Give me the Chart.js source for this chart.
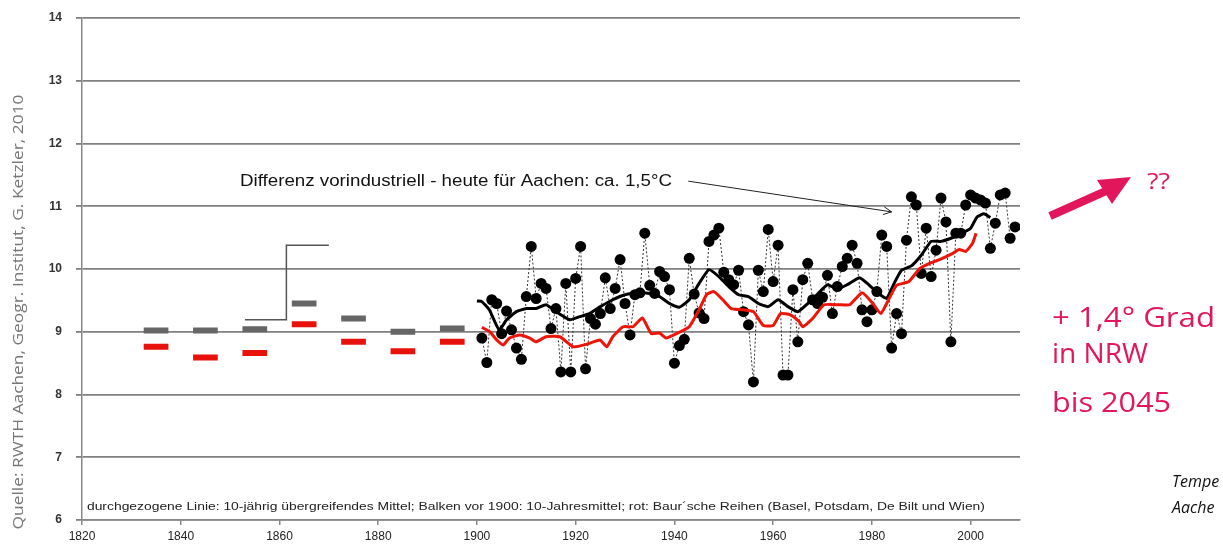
<!DOCTYPE html>
<html>
<head>
<meta charset="utf-8">
<script src="https://cdn.jsdelivr.net/npm/chart.js@4"></script>
<style>
  html, body { margin: 0; padding: 0; background: #fff; }
  #wrap { position: relative; width: 1223px; height: 554px; }
</style>
</head>
<body>
<div id="wrap"><canvas id="chart" width="1223" height="554"></canvas></div>
<script>
// Jahreswerte Aachen (Punkte)
const annualYears = [
  1901, 1902, 1903, 1904, 1905, 1906, 1907, 1908, 1909, 1910,
  1911, 1912, 1913, 1914, 1915, 1916, 1917, 1918, 1919, 1920,
  1921, 1922, 1923, 1924, 1925, 1926, 1927, 1928, 1929, 1930,
  1931, 1932, 1933, 1934, 1935, 1936, 1937, 1938, 1939, 1940,
  1941, 1942, 1943, 1944, 1945, 1946, 1947, 1948, 1949, 1950,
  1951, 1952, 1953, 1954, 1955, 1956, 1957, 1958, 1959, 1960,
  1961, 1962, 1963, 1964, 1965, 1966, 1967, 1968, 1969, 1970,
  1971, 1972, 1973, 1974, 1975, 1976, 1977, 1978, 1979, 1980,
  1981, 1982, 1983, 1984, 1985, 1986, 1987, 1988, 1989, 1990,
  1991, 1992, 1993, 1994, 1995, 1996, 1997, 1998, 1999, 2000,
  2001, 2002, 2003, 2004, 2005, 2006, 2007, 2008, 2009
];
const annualTemps = [
  8.90, 8.51, 9.51, 9.45, 8.97, 9.33, 9.03, 8.74, 8.56, 9.56,
  10.36, 9.53, 9.77, 9.69, 9.05, 9.37, 8.36, 9.77, 8.36, 9.85,
  10.36, 8.41, 9.21, 9.12, 9.29, 9.86, 9.37, 9.69, 10.15, 9.45,
  8.95, 9.59, 9.62, 10.57, 9.74, 9.61, 9.96, 9.88, 9.67, 8.50,
  8.78, 8.88, 10.17, 9.60, 9.30, 9.21, 10.44, 10.54, 10.65, 9.95,
  9.83, 9.75, 9.98, 9.32, 9.11, 8.20, 9.98, 9.64, 10.63, 9.80,
  10.38, 8.31, 8.31, 9.67, 8.84, 9.83, 10.09, 9.51, 9.45, 9.55,
  9.90, 9.29, 9.72, 10.04, 10.17, 10.38, 10.09, 9.35, 9.16, 9.35,
  9.64, 10.54, 10.36, 8.74, 9.29, 8.97, 10.46, 11.15, 11.02, 9.93,
  10.65, 9.88, 10.30, 11.13, 10.75, 8.84, 10.57, 10.57, 11.02, 11.18,
  11.13, 11.10, 11.05, 10.33, 10.73, 11.18, 11.21, 10.49, 10.67
];

// 10-jaehrig uebergreifendes Mittel (schwarz)
const meanYears = [
  1900, 1901, 1902.5, 1904.5, 1906, 1908, 1910, 1912, 1914, 1916,
  1918.8, 1920.8, 1922.8, 1925, 1927.5, 1930, 1933, 1935, 1937, 1939,
  1941, 1943, 1945, 1947, 1949, 1951, 1953, 1955, 1957, 1959,
  1961, 1963, 1965, 1967, 1969, 1971, 1973, 1975, 1977.5, 1979.5,
  1981.5, 1983, 1984.5, 1986, 1988, 1990, 1992, 1994, 1996, 1998,
  2000, 2001.3, 2002.7, 2004
];
const meanTemps = [
  9.49, 9.48, 9.35, 9.03, 9.19, 9.32, 9.37, 9.37, 9.43, 9.32,
  9.19, 9.24, 9.29, 9.40, 9.51, 9.59, 9.62, 9.61, 9.56, 9.45,
  9.39, 9.51, 9.77, 9.99, 9.88, 9.72, 9.59, 9.56, 9.45, 9.40,
  9.51, 9.40, 9.32, 9.45, 9.60, 9.75, 9.68, 9.75, 9.86, 9.74,
  9.60, 9.53, 9.77, 9.98, 10.05, 10.22, 10.44, 10.44, 10.49, 10.56,
  10.65, 10.83, 10.88, 10.82
];

// Baur'sche Reihen, Mittel (rot)
const baurYears = [
  1901, 1902.6, 1904, 1905.3, 1906.6, 1908.7, 1910.7, 1912, 1914, 1916.8,
  1919.5, 1922.2, 1924.9, 1926.3, 1927.5, 1929.6, 1931.6, 1933.5, 1935.3, 1937,
  1938.3, 1940.7, 1943, 1945, 1946.5, 1948, 1949.8, 1951.5, 1954, 1956,
  1958, 1960, 1961.5, 1963.5, 1965.3, 1966, 1968, 1970.3, 1973.4, 1975.5,
  1978, 1980, 1981.8, 1983.7, 1985, 1987.5, 1989.7, 1991.7, 1993.7, 1996.4,
  1997.7, 1999, 2000.4, 2001.1
];
const baurTemps = [
  9.07, 9.00, 8.87, 8.79, 8.90, 8.95, 8.90, 8.84, 8.92, 8.92,
  8.76, 8.80, 8.87, 8.76, 8.92, 9.08, 9.08, 9.22, 8.97, 8.98,
  8.90, 8.98, 9.08, 9.35, 9.59, 9.64, 9.51, 9.37, 9.35, 9.32,
  9.10, 9.10, 9.29, 9.27, 9.16, 9.08, 9.21, 9.43, 9.43, 9.43,
  9.62, 9.47, 9.29, 9.56, 9.74, 9.80, 10.01, 10.09, 10.15, 10.25,
  10.31, 10.28, 10.41, 10.57
];

// Balken vor 1900: 10-Jahresmittel
const decadeCenters = [1835, 1845, 1855, 1865, 1875, 1885, 1895];
const decadeMeans = [9.02, 9.02, 9.04, 9.45, 9.21, 9.00, 9.05];
const decadeBaur = [8.76, 8.59, 8.66, 9.12, 8.84, 8.69, 8.84];

// Klammerlinie bei 1860
const bracketYears = [1853, 1861.4, 1861.4, 1870];
const bracketTemps = [9.19, 9.19, 10.38, 10.38];

const xTickLabels = [1820, 1840, 1860, 1880, 1900, 1920, 1940, 1960, 1980, 2000];
const yTickLabels = [6, 7, 8, 9, 10, 11, 12, 13, 14];

const PINK = '#e2165b';

function pairs(xs, ys) {
  return xs.map((x, i) => ({ x: x, y: ys[i] }));
}

// each bar is a short flat segment, 5 years wide, broken by a gap point
function barSegments(centers, values) {
  const pts = [];
  centers.forEach((c, i) => {
    pts.push({ x: c - 2.5, y: values[i] });
    pts.push({ x: c + 2.5, y: values[i] });
    pts.push({ x: c, y: null });
  });
  return pts;
}

// draw text squeezed/stretched to a given width
function fitText(ctx, text, px, py, width, font, color, baseline) {
  ctx.save();
  ctx.font = font;
  ctx.fillStyle = color;
  ctx.textAlign = 'left';
  ctx.textBaseline = baseline || 'middle';
  const w = ctx.measureText(text).width;
  ctx.translate(px, py);
  ctx.scale(width / w, 1);
  ctx.fillText(text, 0, 0);
  ctx.restore();
}

const notes = {
  id: 'notes',
  afterDraw(chart) {
    const { ctx } = chart;
    const x = chart.scales.x;
    const y = chart.scales.y;

    // annotation in the plot
    fitText(ctx, 'Differenz vorindustriell - heute für Aachen: ca. 1,5°C',
      x.getPixelForValue(1852), y.getPixelForValue(11.4), 432,
      '16px "Liberation Sans", Arial, sans-serif', '#111');

    const x0 = x.getPixelForValue(1942.8), y0 = y.getPixelForValue(11.4);
    const x1 = x.getPixelForValue(1984), y1 = y.getPixelForValue(10.91);
    const ang = Math.atan2(y1 - y0, x1 - x0);
    ctx.save();
    ctx.strokeStyle = '#222';
    ctx.lineWidth = 1;
    ctx.beginPath();
    ctx.moveTo(x0, y0);
    ctx.lineTo(x1, y1);
    ctx.moveTo(x1 - 9 * Math.cos(ang - 0.45), y1 - 9 * Math.sin(ang - 0.45));
    ctx.lineTo(x1, y1);
    ctx.lineTo(x1 - 9 * Math.cos(ang + 0.45), y1 - 9 * Math.sin(ang + 0.45));
    ctx.stroke();
    ctx.restore();

    // footnote
    fitText(ctx, 'durchgezogene Linie: 10-jährig übergreifendes Mittel; Balken vor 1900: 10-Jahresmittel; rot: Baur´sche Reihen (Basel, Potsdam, De Bilt und Wien)',
      x.getPixelForValue(1821), y.getPixelForValue(6.21), 898,
      '11px "Liberation Sans", Arial, sans-serif', '#222');

    // source, rotated
    ctx.save();
    ctx.translate(19, 312);
    ctx.rotate(-Math.PI / 2);
    ctx.font = '14px "Open Sans", sans-serif';
    const qt = 'Quelle: RWTH Aachen, Geogr. Institut, G. Ketzler, 2010';
    const qw = ctx.measureText(qt).width;
    ctx.scale(435 / qw, 1);
    ctx.fillStyle = '#777';
    ctx.textAlign = 'center';
    ctx.textBaseline = 'middle';
    ctx.fillText(qt, 0, 0);
    ctx.restore();

    // pink arrow
    ctx.save();
    ctx.strokeStyle = PINK;
    ctx.fillStyle = PINK;
    ctx.lineWidth = 8;
    ctx.beginPath();
    ctx.moveTo(1050, 216);
    ctx.lineTo(1106, 191);
    ctx.stroke();
    ctx.beginPath();
    ctx.moveTo(1131, 177);
    ctx.lineTo(1097, 180);
    ctx.lineTo(1112, 204);
    ctx.closePath();
    ctx.fill();
    ctx.restore();

    const pinkFont = '27px "Open Sans", sans-serif';
    fitText(ctx, '??', 1147, 189, 23, '22px "Open Sans", sans-serif', PINK, 'alphabetic');
    fitText(ctx, '+ 1,4° Grad', 1052, 327, 163, pinkFont, PINK, 'alphabetic');
    fitText(ctx, 'in NRW', 1052, 363, 96, pinkFont, PINK, 'alphabetic');
    fitText(ctx, 'bis 2045', 1052, 412, 119, pinkFont, PINK, 'alphabetic');

    ctx.save();
    ctx.fillStyle = '#111';
    ctx.font = 'italic 16px "Open Sans", sans-serif';
    ctx.fillText('Tempe', 1172, 487);
    ctx.fillText('Aache', 1172, 513);
    ctx.restore();
  }
};

new Chart(document.getElementById('chart'), {
  type: 'scatter',
  data: {
    datasets: [
      {
        label: 'Mittel',
        data: pairs(meanYears, meanTemps),
        showLine: true,
        borderColor: '#000',
        borderWidth: 3,
        pointRadius: 0,
        tension: 0.15,
        order: 2,
      },
      {
        label: 'Baur',
        data: pairs(baurYears, baurTemps),
        showLine: true,
        borderColor: '#ec1508',
        borderWidth: 3,
        pointRadius: 0,
        tension: 0.15,
        order: 1,
      },
      {
        label: 'Jahreswerte',
        data: pairs(annualYears, annualTemps),
        showLine: true,
        borderColor: '#333',
        borderWidth: 1,
        borderDash: [2, 2],
        pointRadius: 5.5,
        pointBackgroundColor: '#000',
        pointBorderColor: '#000',
        pointBorderWidth: 0,
        order: 3,
      },
      {
        label: 'Balken',
        data: barSegments(decadeCenters, decadeMeans),
        showLine: true,
        spanGaps: false,
        borderColor: '#666',
        borderWidth: 6,
        borderCapStyle: 'butt',
        pointRadius: 0,
        order: 5,
      },
      {
        label: 'Balken rot',
        data: barSegments(decadeCenters, decadeBaur),
        showLine: true,
        spanGaps: false,
        borderColor: '#e8120c',
        borderWidth: 6,
        borderCapStyle: 'butt',
        pointRadius: 0,
        order: 5,
      },
      {
        label: 'Klammer',
        data: pairs(bracketYears, bracketTemps),
        showLine: true,
        borderColor: '#555',
        borderWidth: 1.5,
        pointRadius: 0,
        order: 6,
      },
    ],
  },
  options: {
    responsive: false,
    animation: false,
    events: [],
    layout: {
      padding: { top: 18, right: 203, left: 0, bottom: 0 },
    },
    plugins: {
      legend: { display: false },
      tooltip: { enabled: false },
    },
    scales: {
      x: {
        type: 'linear',
        min: 1820,
        max: 2010,
        afterBuildTicks: scale => {
          scale.ticks = xTickLabels.map(v => ({ value: v }));
        },
        afterFit: scale => {
          scale.height = 34;
          scale.paddingLeft = 0;
          scale.paddingRight = 0;
        },
        grid: {
          drawOnChartArea: false,
          drawTicks: true,
          tickLength: 5,
          color: '#888',
          lineWidth: 1.5,
        },
        border: { color: '#888', width: 1.5 },
        ticks: {
          padding: 4,
          color: '#222',
          font: { family: '"Liberation Sans", Arial, sans-serif', size: 12 },
          callback: v => String(v),
        },
      },
      y: {
        min: 6,
        max: 14,
        afterBuildTicks: scale => {
          scale.ticks = yTickLabels.map(v => ({ value: v }));
        },
        afterFit: scale => {
          scale.width = 82;
          scale.paddingTop = 0;
          scale.paddingBottom = 0;
        },
        grid: {
          color: '#808080',
          lineWidth: 1.8,
          tickLength: 6,
        },
        border: { color: '#888', width: 1.5 },
        ticks: {
          padding: 14,
          color: '#333',
          font: { family: '"Liberation Sans", Arial, sans-serif', size: 12, weight: 'bold' },
        },
      },
    },
  },
  plugins: [notes],
});
</script>
</body>
</html>
